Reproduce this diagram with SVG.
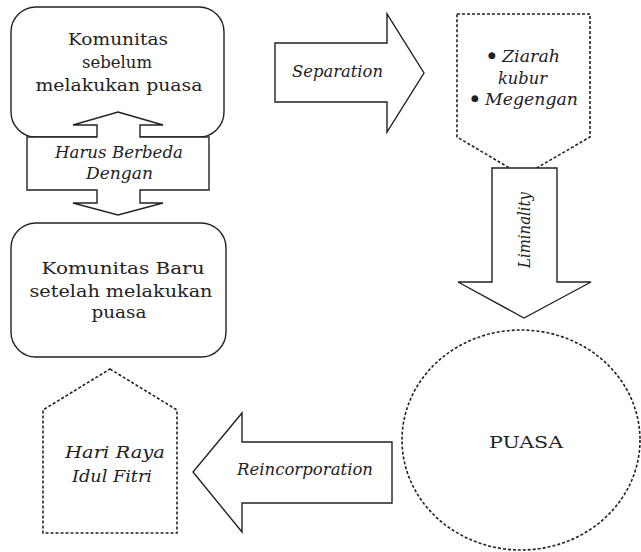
<svg xmlns="http://www.w3.org/2000/svg" width="641" height="552" viewBox="0 0 641 552">
<style>
.box{fill:#fff;stroke:#222;stroke-width:1.4}
.dash{fill:#fff;stroke:#222;stroke-width:1.6;stroke-dasharray:3 2}
.arrow{fill:#fff;stroke:#222;stroke-width:1.4;stroke-linejoin:miter}
.r{font-family:"DejaVu Serif","Liberation Serif",serif;font-size:17px;fill:#222}
.i{font-family:"DejaVu Serif","Liberation Serif",serif;font-size:16.5px;font-style:italic;fill:#222}
.b{font-family:"DejaVu Sans","Liberation Sans",sans-serif;font-size:9px;fill:#222;text-anchor:middle}
</style>
<rect width="641" height="552" fill="#fff"/>
<g id="komunitas-sebelum">
<rect class="box" x="11" y="7" width="213" height="130" rx="25"/>
<text class="r" x="68" y="45" textLength="100" lengthAdjust="spacingAndGlyphs">Komunitas</text>
<text class="r" x="82" y="68" textLength="70" lengthAdjust="spacingAndGlyphs">sebelum</text>
<text class="r" x="35.5" y="91" textLength="167" lengthAdjust="spacingAndGlyphs">melakukan puasa</text>
</g>
<g id="komunitas-baru">
<rect class="box" x="11" y="223" width="215" height="134" rx="25"/>
<text class="r" x="41.5" y="274" textLength="163" lengthAdjust="spacingAndGlyphs">Komunitas Baru</text>
<text class="r" x="29.5" y="297" textLength="183" lengthAdjust="spacingAndGlyphs">setelah melakukan</text>
<text class="r" x="91.5" y="318" textLength="55" lengthAdjust="spacingAndGlyphs">puasa</text>
</g>
<g id="ziarah">
<path class="dash" d="M457,14 L590,14 L590,137 L523,176 L457,137 Z"/>
<text class="b" x="492" y="58">●</text>
<text class="i" x="502" y="62" textLength="58" lengthAdjust="spacingAndGlyphs">Ziarah</text>
<text class="i" x="498" y="84" textLength="49" lengthAdjust="spacingAndGlyphs">kubur</text>
<text class="b" x="475" y="101">●</text>
<text class="i" x="485" y="105" textLength="93" lengthAdjust="spacingAndGlyphs">Megengan</text>
</g>
<g id="puasa">
<ellipse class="dash" cx="521" cy="440" rx="119" ry="110"/>
<text class="r" x="489" y="448" textLength="74" lengthAdjust="spacingAndGlyphs">PUASA</text>
</g>
<g id="hari-raya">
<path class="dash" d="M110,369 L177,410 L177,533 L43,533 L43,410 Z"/>
<text class="i" x="65" y="458" textLength="100" lengthAdjust="spacingAndGlyphs">Hari Raya</text>
<text class="i" x="72" y="482" textLength="80" lengthAdjust="spacingAndGlyphs">Idul Fitri</text>
</g>
<g id="connectors">
<g id="harus-berbeda">
<path class="arrow" d="M118,112 L163,125 L140,125 L140,137 L209,137 L209,190 L140,190 L140,203 L163,203 L118,215 L73,203 L97,203 L97,190 L27,190 L27,137 L97,137 L97,125 L73,125 Z"/>
<text class="i" x="55" y="158" textLength="128" lengthAdjust="spacingAndGlyphs">Harus Berbeda</text>
<text class="i" x="86" y="179" textLength="67" lengthAdjust="spacingAndGlyphs">Dengan</text>
</g>
<g id="separation">
<path class="arrow" d="M275,43 L387,43 L387,14 L424,73 L387,132 L387,102 L275,102 Z"/>
<text class="i" x="292" y="77" textLength="91" lengthAdjust="spacingAndGlyphs">Separation</text>
</g>
<g id="liminality">
<path class="arrow" d="M492,168 L557,168 L557,282 L591,282 L524,318 L458,282 L492,282 Z"/>
<text class="i" transform="translate(530,230) rotate(-90)" x="-38" y="0" textLength="76" lengthAdjust="spacingAndGlyphs">Liminality</text>
</g>
<g id="reincorporation">
<path class="arrow" d="M392,442 L242,442 L242,413 L193,472 L242,532 L242,503 L392,503 Z"/>
<text class="i" x="237" y="475" textLength="136" lengthAdjust="spacingAndGlyphs">Reincorporation</text>
</g>
</g>
</svg>
